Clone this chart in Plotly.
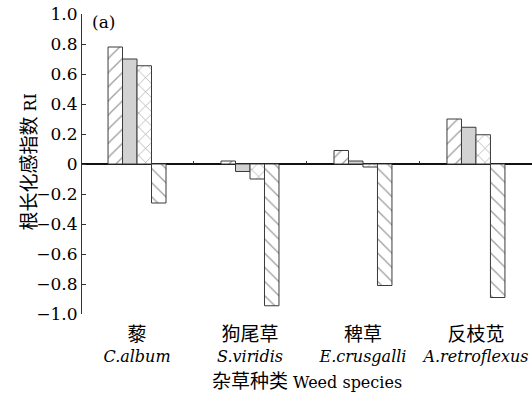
import plotly.graph_objects as go

cats_cn = ["藜", "狗尾草", "稗草", "反枝苋"]
cats_lat = ["C.album", "S.viridis", "E.crusgalli", "A.retroflexus"]
series_names = ["T1", "T2", "T3", "T4"]
s1 = [0.78, 0.02, 0.09, 0.30]
s2 = [0.70, -0.05, 0.02, 0.245]
s3 = [0.655, -0.10, -0.02, 0.195]
s4 = [-0.26, -0.945, -0.81, -0.89]
y_ticks = [1.0, 0.8, 0.6, 0.4, 0.2, 0, -0.2, -0.4, -0.6, -0.8, -1.0]
y_ticktext = ["1.0", "0.8", "0.6", "0.4", "0.2", "0", "−0.2", "−0.4", "−0.6", "−0.8", "−1.0"]

SERIF = "DejaVu Serif, Noto Sans CJK SC"
CJK = "font-family:'Noto Sans CJK SC';font-size:19px"

xpos = list(range(len(cats_cn)))
ticktext = [f"<span style=\"{CJK}\">{c}</span><br><i>{l}</i>" for c, l in zip(cats_cn, cats_lat)]

styles = [
    dict(bg="white", shape="/"),
    dict(bg="#d2d2d2", shape=""),
    dict(bg="white", shape="x"),
    dict(bg="white", shape="\\"),
]

fig = go.Figure()
for name, vals, st in zip(series_names, [s1, s2, s3, s4], styles):
    fig.add_trace(go.Bar(
        x=xpos, y=vals, name=name,
        marker=dict(
            color=st["bg"],
            line=dict(color="#3a3a3a", width=1),
            pattern=dict(shape=st["shape"], fgcolor="#333333", bgcolor=st["bg"],
                         size=10, solidity=0.12),
        ),
        showlegend=False,
    ))

# helper trace for the zero-axis tick marks between groups
fig.add_trace(go.Scatter(x=[], y=[], xaxis="x2", yaxis="y", showlegend=False))

xr = [-0.487, 3.496]
fig.update_layout(
    width=532, height=405,
    margin=dict(l=82, r=0, t=14, b=91),
    paper_bgcolor="white", plot_bgcolor="white",
    barmode="group", bargap=0.487, bargroupgap=0,
    font=dict(family=SERIF, size=16, color="black"),
    xaxis=dict(
        range=xr, tickvals=xpos, ticktext=ticktext,
        showline=False, showgrid=False, zeroline=False, ticks="",
        ticklabelstandoff=10,
        tickfont=dict(family=SERIF, size=16, color="black"),
        title=dict(text=f"<span style=\"{CJK}\">杂草种类</span> Weed species",
                   font=dict(family=SERIF, size=16, color="black"), standoff=4),
        automargin=False,
    ),
    xaxis2=dict(
        range=xr, overlaying="x", anchor="free", position=0.5,
        tickvals=[0.5, 1.5, 2.5], ticks="inside", ticklen=3, tickcolor="#333333",
        showticklabels=False, showline=False, showgrid=False, zeroline=False,
    ),
    yaxis=dict(
        range=[-1.0, 1.0], tickvals=y_ticks, ticktext=y_ticktext,
        ticks="inside", ticklen=4, tickcolor="#333333",
        showline=True, linecolor="#333333", linewidth=1,
        showgrid=False, zeroline=True, zerolinecolor="#111111", zerolinewidth=1.5,
        tickfont=dict(family=SERIF, size=17, color="black"),
        automargin=False,
    ),
    annotations=[
        dict(text="(a)", xref="paper", yref="paper", x=0.018, y=0.975,
             xanchor="left", yanchor="middle", showarrow=False,
             font=dict(family=SERIF, size=17, color="black")),
        dict(text=f"<span style=\"{CJK}\">根长化感指数</span> RI",
             xref="paper", yref="paper", x=-0.122, y=0.505, textangle=-90,
             xanchor="center", yanchor="middle", showarrow=False,
             font=dict(family=SERIF, size=16, color="black")),
    ],
)

fig.write_html("out.html", config={"displayModeBar": False},
               post_script="document.body.style.margin='0';")
